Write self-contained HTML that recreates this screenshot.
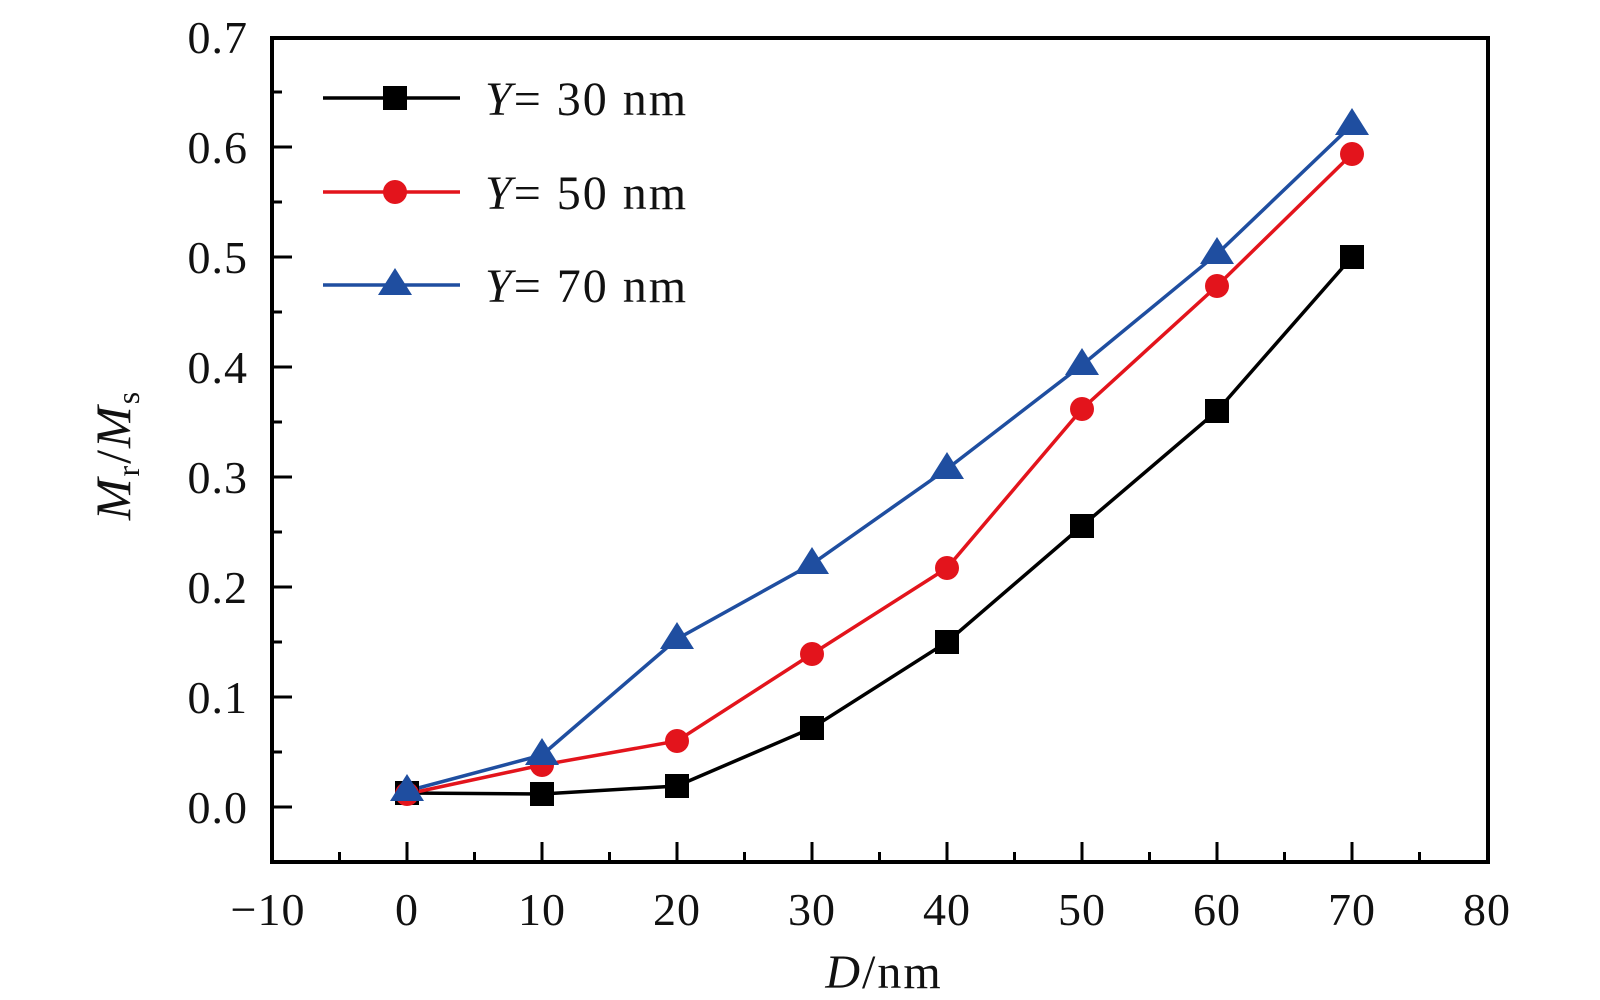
<!DOCTYPE html>
<html><head><meta charset="utf-8"><style>
html,body{margin:0;padding:0;background:#fff;}
svg{display:block;}
text{font-family:"Liberation Serif",serif;fill:#111;}
</style></head><body>
<svg width="1600" height="1000" viewBox="0 0 1600 1000" xmlns="http://www.w3.org/2000/svg">
<g stroke="#000" stroke-width="3">
<line x1="272" y1="807" x2="292" y2="807"/><line x1="272" y1="752" x2="282" y2="752"/>
<line x1="272" y1="697" x2="292" y2="697"/><line x1="272" y1="642" x2="282" y2="642"/>
<line x1="272" y1="587" x2="292" y2="587"/><line x1="272" y1="532" x2="282" y2="532"/>
<line x1="272" y1="477" x2="292" y2="477"/><line x1="272" y1="422" x2="282" y2="422"/>
<line x1="272" y1="367" x2="292" y2="367"/><line x1="272" y1="312" x2="282" y2="312"/>
<line x1="272" y1="257" x2="292" y2="257"/><line x1="272" y1="202" x2="282" y2="202"/>
<line x1="272" y1="147" x2="292" y2="147"/><line x1="272" y1="92" x2="282" y2="92"/>
<line x1="339.5" y1="862" x2="339.5" y2="852"/><line x1="407" y1="862" x2="407" y2="842"/>
<line x1="474.5" y1="862" x2="474.5" y2="852"/><line x1="542" y1="862" x2="542" y2="842"/>
<line x1="609.5" y1="862" x2="609.5" y2="852"/><line x1="677" y1="862" x2="677" y2="842"/>
<line x1="744.5" y1="862" x2="744.5" y2="852"/><line x1="812" y1="862" x2="812" y2="842"/>
<line x1="879.5" y1="862" x2="879.5" y2="852"/><line x1="947" y1="862" x2="947" y2="842"/>
<line x1="1014.5" y1="862" x2="1014.5" y2="852"/><line x1="1082" y1="862" x2="1082" y2="842"/>
<line x1="1149.5" y1="862" x2="1149.5" y2="852"/><line x1="1217" y1="862" x2="1217" y2="842"/>
<line x1="1284.5" y1="862" x2="1284.5" y2="852"/><line x1="1352" y1="862" x2="1352" y2="842"/>
<line x1="1419.5" y1="862" x2="1419.5" y2="852"/>
</g>
<rect x="272" y="38" width="1216" height="824" fill="none" stroke="#000" stroke-width="4"/>

<g font-size="46" text-anchor="end" letter-spacing="1">
<text x="248" y="823">0.0</text><text x="248" y="713">0.1</text><text x="248" y="603">0.2</text>
<text x="248" y="493">0.3</text><text x="248" y="383">0.4</text><text x="248" y="273">0.5</text>
<text x="248" y="163">0.6</text><text x="248" y="53">0.7</text>
</g>
<g font-size="46" text-anchor="middle" letter-spacing="1">
<text x="268" y="925">−10</text><text x="407" y="925">0</text><text x="542" y="925">10</text>
<text x="677" y="925">20</text><text x="812" y="925">30</text><text x="947" y="925">40</text>
<text x="1082" y="925">50</text><text x="1217" y="925">60</text><text x="1352" y="925">70</text>
<text x="1487" y="925">80</text>
</g>
<text x="884" y="988" font-size="48" text-anchor="middle" letter-spacing="2"><tspan font-style="italic">D</tspan>/nm</text>
<text transform="translate(130,455) rotate(-90)" font-size="50" text-anchor="middle" letter-spacing="2"><tspan font-style="italic">M</tspan><tspan font-size="32" dy="9">r</tspan><tspan dy="-9">/</tspan><tspan font-style="italic">M</tspan><tspan font-size="32" dy="9">s</tspan></text>

<polyline fill="none" stroke="#000" stroke-width="3.5" points="407,793 542,794 677,786 812,728 947,642 1082,526 1217,411 1352,257"/>
<polyline fill="none" stroke="#e3141c" stroke-width="3.5" points="407,794 542,765 677,741 812,654 947,568 1082,409 1217,286 1352,154"/>
<polyline fill="none" stroke="#1f4ea0" stroke-width="3.5" points="407,791 542,755 677,639 812,564 947,469 1082,365 1217,254 1352,125"/>
<g fill="#000">
<rect x="395" y="781" width="24" height="24"/><rect x="530" y="782" width="24" height="24"/>
<rect x="665" y="774" width="24" height="24"/><rect x="800" y="716" width="24" height="24"/>
<rect x="935" y="630" width="24" height="24"/><rect x="1070" y="514" width="24" height="24"/>
<rect x="1205" y="399" width="24" height="24"/><rect x="1340" y="245" width="24" height="24"/>
</g>
<g fill="#e3141c">
<circle cx="407" cy="794" r="12"/><circle cx="542" cy="765" r="12"/><circle cx="677" cy="741" r="12"/>
<circle cx="812" cy="654" r="12"/><circle cx="947" cy="568" r="12"/><circle cx="1082" cy="409" r="12"/>
<circle cx="1217" cy="286" r="12"/><circle cx="1352" cy="154" r="12"/>
</g>
<g fill="#1f4ea0">
<polygon points="407,774 424,801 390,801"/><polygon points="542,738 559,765 525,765"/>
<polygon points="677,622 694,649 660,649"/><polygon points="812,547 829,574 795,574"/>
<polygon points="947,452 964,479 930,479"/><polygon points="1082,348 1099,375 1065,375"/>
<polygon points="1217,237 1234,264 1200,264"/><polygon points="1352,108 1369,135 1335,135"/>
</g>

<line x1="323" y1="98" x2="460" y2="98" stroke="#000" stroke-width="3.5"/>
<rect x="383" y="86" width="24" height="24" fill="#000"/>
<line x1="323" y1="192" x2="460" y2="192" stroke="#e3141c" stroke-width="3.5"/>
<circle cx="395" cy="192" r="12" fill="#e3141c"/>
<line x1="323" y1="285" x2="460" y2="285" stroke="#1f4ea0" stroke-width="3.5"/>
<polygon points="395,268 412,295 378,295" fill="#1f4ea0"/>
<g font-size="48" letter-spacing="2">
<text x="485" y="115"><tspan font-style="italic">Y</tspan>= 30 nm</text>
<text x="485" y="209"><tspan font-style="italic">Y</tspan>= 50 nm</text>
<text x="485" y="302"><tspan font-style="italic">Y</tspan>= 70 nm</text>
</g>
</svg>
</body></html>
